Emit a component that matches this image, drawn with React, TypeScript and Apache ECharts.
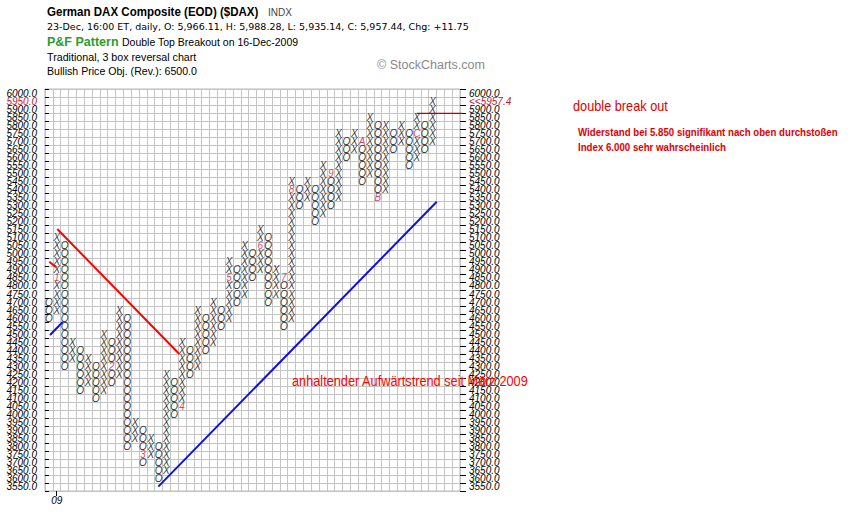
import * as echarts from "echarts";
import { useEffect, useRef } from "react";

// Point & Figure columns, box size 50, 3 box reversal
const colTypes = [
	"O", "X", "O", "X", "O", "X", "O", "X", "O", "X",
	"O", "X", "O", "X", "O", "X", "O", "X", "O", "X",
	"O", "X", "O", "X", "O", "X", "O", "X", "O", "X",
	"O", "X", "O", "X", "O", "X", "O", "X", "O", "X",
	"O", "X", "O", "X", "O", "X", "O", "X", "O", "X",
];
const colLows = [
	4600, 4650, 4300, 4350, 4150, 4200, 4100, 4150, 4200, 4250,
	3800, 3850, 3700, 3750, 3600, 3650, 4000, 4050, 4250, 4300,
	4400, 4450, 4550, 4600, 4700, 4750, 4850, 4900, 4700, 4750,
	4550, 4600, 5300, 5350, 5200, 5250, 5300, 5350, 5600, 5650,
	5450, 5500, 5350, 5400, 5650, 5700, 5550, 5600, 5650, 5700,
];
const colHighs = [
	4700, 5100, 5050, 4450, 4400, 4350, 4300, 4500, 4450, 4650,
	4600, 3950, 3900, 3850, 3800, 4250, 4200, 4450, 4400, 4650,
	4600, 4700, 4650, 4950, 4900, 5050, 5000, 5150, 5100, 4900,
	4850, 5450, 5400, 5450, 5400, 5550, 5500, 5750, 5700, 5750,
	5700, 5850, 5800, 5800, 5750, 5800, 5750, 5850, 5800, 5950,
];
const emptyCols = 3;
const boxSize = 50;
const minPrice = 3550;
const maxPrice = 6000;
const lastClose = "5957.4";

// month markers (1..9, A, B, C)
const monthCols = [1, 8, 12, 17, 23, 27, 30, 31, 36, 40, 42, 47];
const monthPrices = [4850, 4300, 3750, 4050, 4850, 5050, 4850, 5400, 5500, 5700, 5350, 5750];
const monthMarks = ["1", "2", "3", "4", "5", "6", "7", "8", "9", "A", "B", "C"];

const xTickCols = [1];
const xTickLabels = ["09"];

// trend lines: [column, price]
const downTrend = [[1.07, 5154], [16.65, 4377]];
const earlyRed = [[0.05, 4951], [0.9, 4916]];
const earlyBlue = [[0.14, 4495], [1.76, 4576]];
const upTrend = [[13.97, 3552], [49.53, 5324]];
const breakoutLine = [[46.97, 5874], [64.63, 5874]];

const SANS = '"Liberation Sans", Arial, sans-serif';
const VERDANA = '"DejaVu Sans", Verdana, sans-serif';
const CRIMSON = "#c3143c";

export default function App() {
	const ref = useRef<HTMLDivElement>(null);
	useEffect(() => {
		if (!ref.current) return;
		const chart = echarts.init(ref.current, null, { renderer: "svg" });

		const prices: string[] = [];
		for (let p = minPrice; p <= maxPrice; p += boxSize) prices.push(String(p));
		const cols = Array.from({ length: colTypes.length + emptyCols }, (_, i) => String(i));

		const markAt = new Map<string, string>();
		monthCols.forEach((c, i) => markAt.set(`${c}_${monthPrices[i]}`, monthMarks[i]));
		const boxes: [number, number, string][] = [];
		const marks: [number, number, string][] = [];
		colTypes.forEach((t, c) => {
			for (let p = colLows[c]; p <= colHighs[c]; p += boxSize) {
				const row = (p - minPrice) / boxSize;
				const m = markAt.get(`${c}_${p}`);
				if (m) marks.push([c, row, m]);
				else boxes.push([c, row, t]);
			}
		});

		const glyphLabel = (color: string) => ({
			show: true,
			position: "inside",
			formatter: (p: any) => p.value[2],
			color,
			fontStyle: "italic",
			fontSize: 10,
			lineHeight: 8,
			fontFamily: SANS,
		});

		const yLabel = (current: string) => ({
			interval: 0,
			fontStyle: "italic",
			fontSize: 10,
			lineHeight: 8,
			fontFamily: SANS,
			color: "#000",
			formatter: (v: string) => (v === "5950" ? `{cur|${current}}` : `${v}.0`),
			rich: { cur: { color: CRIMSON, fontStyle: "italic", fontSize: 10, lineHeight: 8, fontFamily: SANS } },
		});

		const trend = (data: number[][], color: string, width: number) => ({
			type: "line",
			xAxisIndex: 1,
			yAxisIndex: 2,
			data,
			symbol: "none",
			clip: false,
			silent: true,
			lineStyle: { color, width },
			z: 5,
		});

		const text = (x: number, y: number, t: string, style: any, scaleX = 1) => ({
			type: "text",
			x,
			y,
			scaleX,
			z: 100,
			style: { text: t, fontFamily: SANS, fill: "#000", verticalAlign: "middle", ...style },
		});

		chart.setOption({
			animation: false,
			backgroundColor: "#fff",
			grid: { left: 45, top: 89, width: 415, height: 402, show: true, borderColor: "#b8b8b8", borderWidth: 1 },
			xAxis: [
				{
					type: "category",
					data: cols,
					boundaryGap: true,
					axisLine: { show: false },
					axisTick: {
						show: true,
						alignWithLabel: true,
						length: 5,
						interval: (i: number) => xTickCols.includes(i),
						lineStyle: { color: "#000" },
					},
					axisLabel: {
						interval: 0,
						margin: 4,
						fontStyle: "italic",
						fontSize: 10,
						fontFamily: SANS,
						color: "#000",
						formatter: (_v: string, i: number) => {
							const k = xTickCols.indexOf(i);
							return k >= 0 ? xTickLabels[k] : "";
						},
					},
					splitLine: { show: true, interval: 0, lineStyle: { color: "#c4c4c4", width: 1 } },
				},
				{ type: "value", min: -0.5, max: colTypes.length + emptyCols - 0.5, show: false },
			],
			yAxis: [
				{
					type: "category",
					data: prices,
					position: "left",
					boundaryGap: true,
					axisLine: { show: false },
					axisTick: { show: true, length: 4, interval: 0, lineStyle: { color: "#000" } },
					axisLabel: { ...yLabel("5950.0"), margin: 8 },
					splitLine: { show: true, interval: 0, lineStyle: { color: "#c4c4c4", width: 1 } },
				},
				{
					type: "category",
					data: prices,
					position: "right",
					boundaryGap: true,
					axisLine: { show: false },
					axisTick: { show: true, length: 6, interval: 0, lineStyle: { color: "#000" } },
					axisLabel: { ...yLabel(`<<${lastClose}`), margin: 9 },
					splitLine: { show: false },
				},
				{ type: "value", min: minPrice - boxSize / 2, max: maxPrice + boxSize / 2, show: false },
			],
			series: [
				{
					type: "scatter",
					xAxisIndex: 0,
					yAxisIndex: 0,
					data: boxes,
					symbolSize: 0,
					itemStyle: { color: "transparent" },
					label: glyphLabel("#000"),
					silent: true,
					z: 3,
				},
				{
					type: "scatter",
					xAxisIndex: 0,
					yAxisIndex: 0,
					data: marks,
					symbolSize: 0,
					itemStyle: { color: "transparent" },
					label: glyphLabel(CRIMSON),
					silent: true,
					z: 3,
				},
				trend(downTrend, "#ff0000", 2),
				trend(earlyRed, "#ff0000", 2),
				trend(earlyBlue, "#1010e0", 2),
				trend(upTrend, "#1010e0", 2),
				trend(breakoutLine, "#c00000", 1.2),
			],
			graphic: [
				text(47, 12, "German DAX Composite (EOD) ($DAX)", { fontSize: 12.4, fontWeight: "bold" }, 0.93),
				text(268, 12, "INDX", { fontSize: 10, fill: "#444" }),
				text(47, 26, "23-Dec, 16:00 ET, daily, O: 5,966.11, H: 5,988.28, L: 5,935.14, C: 5,957.44, Chg: +11.75", {
					fontFamily: VERDANA,
					fontSize: 9.5,
				}),
				text(47, 42, "P&F Pattern", { fontSize: 12.5, fontWeight: "bold", fill: "#2e9b2e" }),
				text(122, 42, "Double Top Breakout on 16-Dec-2009", { fontSize: 10.5 }),
				text(47, 57, "Traditional, 3 box reversal chart", { fontSize: 10.7 }),
				text(47, 71, "Bullish Price Obj. (Rev.): 6500.0", { fontSize: 10.6 }),
				text(377, 65, "© StockCharts.com", { fontSize: 12.5, fill: "#8a8a8a" }),
				text(573, 106, "double break out", { fontSize: 14, fill: "#e00000" }, 0.91),
				text(
					578,
					132,
					"Widerstand bei 5.850 signifikant nach oben durchstoßen",
					{ fontSize: 11, fontWeight: "bold", fill: "#e00000" },
					0.88,
				),
				text(578, 147, "Index 6.000 sehr wahrscheinlich", { fontSize: 11, fontWeight: "bold", fill: "#e00000" }, 0.88),
				text(292, 381, "anhaltender Aufwärtstrend seit März 2009", { fontSize: 15, fill: "#ff0000" }, 0.85),
			],
		});
		return () => chart.dispose();
	}, []);
	return <div ref={ref} style={{ position: "fixed", left: 0, top: 0, width: 861, height: 515 }} />;
}
